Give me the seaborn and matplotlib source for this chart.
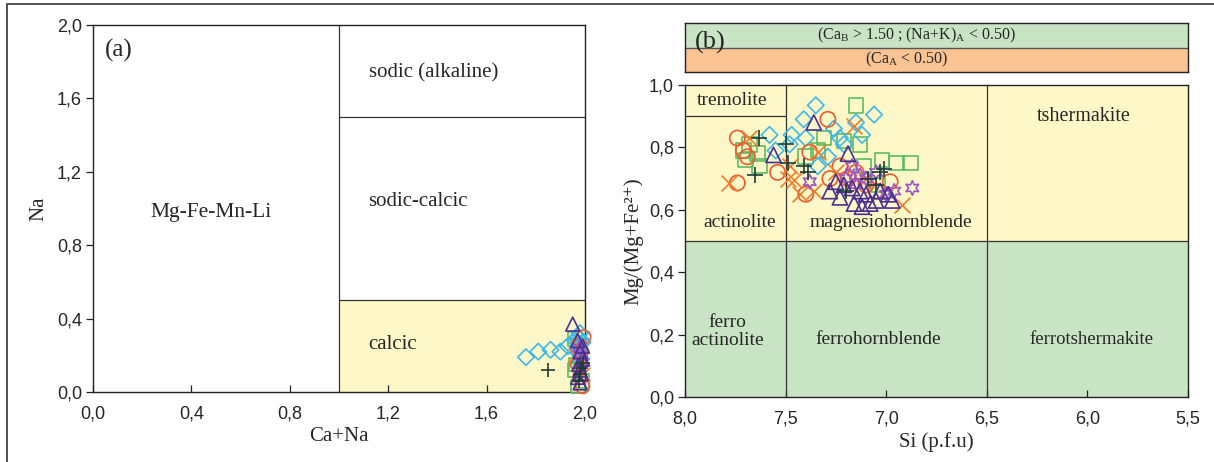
import numpy as np
import pandas as pd
import matplotlib
matplotlib.use("Agg")
import matplotlib.pyplot as plt
from matplotlib.patches import Rectangle
from matplotlib.ticker import FuncFormatter
import seaborn as sns

sns.set_theme(style="white")
plt.rcParams['font.family'] = ['Liberation Sans', 'DejaVu Sans']

# ---------------- data: panel (a) Ca+Na vs Na ----------------
a_diamond_x = [1.76, 1.81, 1.86, 1.90, 1.93, 1.96, 1.97, 1.98, 1.97, 1.98, 1.99, 1.975, 1.985, 1.97, 1.98]
a_diamond_y = [0.19, 0.22, 0.23, 0.22, 0.25, 0.28, 0.30, 0.26, 0.24, 0.32, 0.27, 0.21, 0.18, 0.15, 0.29]
a_tri_x = [1.95, 1.97, 1.98, 1.99, 1.975, 1.98, 1.97, 1.985, 1.99, 1.98]
a_tri_y = [0.37, 0.28, 0.22, 0.18, 0.15, 0.12, 0.08, 0.10, 0.25, 0.05]
a_square_x = [1.96, 1.97, 1.98, 1.96, 1.99, 1.97, 1.98, 1.965]
a_square_y = [0.29, 0.25, 0.19, 0.12, 0.06, 0.03, 0.20, 0.15]
a_circle_x = [1.99, 1.98, 1.995, 1.985, 1.97]
a_circle_y = [0.03, 0.08, 0.30, 0.22, 0.15]
a_cross_x = [1.97, 1.98, 1.96, 1.99]
a_cross_y = [0.25, 0.18, 0.20, 0.10]
a_plus_x = [1.85, 1.98, 1.99, 1.975, 1.985]
a_plus_y = [0.12, 0.10, 0.16, 0.06, 0.13]
a_star_x = [1.98, 1.99, 1.975]
a_star_y = [0.20, 0.16, 0.24]

# ---------------- data: panel (b) Si vs Mg/(Mg+Fe2+) ----------------
b_circle_si = [7.74, 7.69, 7.71, 7.74, 7.54, 7.40, 7.29, 7.38, 7.23, 7.19, 7.15, 7.28, 7.10, 6.98, 7.05]
b_circle_mg = [0.83, 0.77, 0.79, 0.686, 0.72, 0.65, 0.89, 0.785, 0.74, 0.70, 0.72, 0.70, 0.68, 0.69, 0.66]
b_cross_si = [7.68, 7.78, 7.49, 7.43, 7.48, 7.16, 7.34, 7.36, 7.46, 6.92, 7.25, 7.10]
b_cross_mg = [0.83, 0.686, 0.70, 0.65, 0.74, 0.87, 0.785, 0.66, 0.695, 0.615, 0.72, 0.70]
b_square_si = [7.71, 7.64, 7.68, 7.63, 7.70, 7.15, 7.34, 7.31, 7.21, 7.13, 7.11, 7.02, 6.95, 6.88, 7.40, 7.04]
b_square_mg = [0.79, 0.78, 0.81, 0.74, 0.76, 0.935, 0.79, 0.83, 0.82, 0.81, 0.74, 0.76, 0.75, 0.75, 0.77, 0.68]
b_plus_si = [7.63, 7.65, 7.50, 7.49, 7.41, 7.39, 7.01, 7.03, 7.09, 7.05, 7.20]
b_plus_mg = [0.83, 0.71, 0.81, 0.75, 0.74, 0.72, 0.73, 0.72, 0.70, 0.68, 0.66]
b_tri_si = [7.56, 7.36, 7.19, 7.28, 7.21, 7.17, 7.13, 7.10, 7.08, 7.03, 6.99, 7.23, 7.16, 7.05, 7.12, 6.97, 7.25]
b_tri_mg = [0.776, 0.88, 0.78, 0.66, 0.68, 0.67, 0.66, 0.65, 0.62, 0.66, 0.65, 0.64, 0.62, 0.63, 0.61, 0.63, 0.69]
b_diamond_si = [7.35, 7.06, 7.41, 7.47, 7.40, 7.48, 7.26, 7.23, 7.21, 7.29, 7.34, 7.58, 7.15, 7.12, 7.55]
b_diamond_mg = [0.935, 0.905, 0.89, 0.84, 0.83, 0.81, 0.86, 0.83, 0.81, 0.77, 0.74, 0.84, 0.88, 0.84, 0.79]
b_star_si = [6.87, 6.96, 7.38, 7.17, 7.13, 7.00, 7.10, 7.05, 7.20, 7.15]
b_star_mg = [0.67, 0.66, 0.69, 0.74, 0.71, 0.65, 0.70, 0.72, 0.70, 0.68]

a_ticks = [0.0, 0.4, 0.8, 1.2, 1.6, 2.0]
b_xticks = [8.0, 7.5, 7.0, 6.5, 6.0, 5.5]
b_yticks = [0.0, 0.2, 0.4, 0.6, 0.8, 1.0]

# ---------------- styles ----------------
YELLOW = '#FEF8C8'
GREEN = '#C9E4C5'
ORANGE = '#F9C392'
C_CIRCLE = '#EE5A2C'
C_CROSS = '#F47B2B'
C_SQUARE = '#5DBA62'
C_PLUS = '#1E3B3A'
C_TRI = '#4A2F90'
C_DIAM = '#3DB8E8'
C_STAR = '#9B55C4'
SERIF = ['Liberation Serif', 'DejaVu Serif']

W, H = 1214, 462
fig = plt.figure(figsize=(W / 100, H / 100), dpi=100)
fig.patch.set_facecolor('white')

def fx(px):
    return px / W

def fy(py):
    return 1 - py / H

axA = fig.add_axes([fx(93), fy(392), fx(585) - fx(93), fy(25) - fy(392)])
axB = fig.add_axes([fx(685), fy(397), fx(1188) - fx(685), fy(85) - fy(397)])
axT = fig.add_axes([fx(685), fy(72), fx(1188) - fx(685), fy(23) - fy(72)])

comma = FuncFormatter(lambda v, p: f"{v:.1f}".replace('.', ','))

def series(ax, xs, ys, marker, color, size, filled_marker=True, z=3):
    df = pd.DataFrame({'x': xs, 'y': ys})
    if filled_marker:
        sns.scatterplot(data=df, x='x', y='y', ax=ax, marker=marker, s=size,
                        color=color, facecolor='none', edgecolor=color,
                        linewidth=1.2, zorder=z, clip_on=False, legend=False)
    else:
        sns.scatterplot(data=df, x='x', y='y', ax=ax, marker=marker, s=size,
                        color=color, linewidth=1.2, zorder=z, clip_on=False,
                        legend=False)

STAR = (6, 1, 0)

# ---------------- panel (a) ----------------
axA.set_xlim(0, 2)
axA.set_ylim(0, 2)
axA.add_patch(Rectangle((1, 0), 1, 0.5, facecolor=YELLOW, edgecolor='none', zorder=0))
axA.plot([1, 1], [0, 2], color='#333333', lw=0.9, zorder=1)
axA.plot([1, 2], [1.5, 1.5], color='#333333', lw=0.9, zorder=1)
axA.plot([1, 2], [0.5, 0.5], color='#333333', lw=0.9, zorder=1)

series(axA, a_square_x, a_square_y, 's', C_SQUARE, 100)
series(axA, a_diamond_x, a_diamond_y, 'D', C_DIAM, 70)
series(axA, a_circle_x, a_circle_y, 'o', C_CIRCLE, 100)
series(axA, a_cross_x, a_cross_y, 'x', C_CROSS, 100, filled_marker=False)
series(axA, a_star_x, a_star_y, STAR, C_STAR, 100)
series(axA, a_tri_x, a_tri_y, '^', C_TRI, 100)
series(axA, a_plus_x, a_plus_y, '+', C_PLUS, 110, filled_marker=False)

axA.text(0.05, 1.86, '(a)', fontsize=18, family=SERIF, ha='left', va='center')
axA.text(0.48, 0.98, 'Mg-Fe-Mn-Li', fontsize=15.5, family=SERIF, ha='center', va='center')
axA.text(1.12, 1.74, 'sodic (alkaline)', fontsize=15, family=SERIF, ha='left', va='center')
axA.text(1.12, 1.04, 'sodic-calcic', fontsize=15, family=SERIF, ha='left', va='center')
axA.text(1.12, 0.26, 'calcic', fontsize=15, family=SERIF, ha='left', va='center')

axA.set_xticks(a_ticks)
axA.set_yticks(a_ticks)
axA.xaxis.set_major_formatter(comma)
axA.yaxis.set_major_formatter(comma)
axA.set_xlabel('Ca+Na', fontsize=15, family=SERIF, labelpad=3)
axA.set_ylabel('Na', fontsize=15, family=SERIF, labelpad=6)

# ---------------- panel (b) ----------------
axB.set_xlim(8, 5.5)
axB.set_ylim(0, 1)
axB.add_patch(Rectangle((5.5, 0.5), 2.5, 0.5, facecolor=YELLOW, edgecolor='none', zorder=0))
axB.add_patch(Rectangle((5.5, 0.0), 2.5, 0.5, facecolor=GREEN, edgecolor='none', zorder=0))
for xv in (7.5, 6.5):
    axB.plot([xv, xv], [0, 1], color='#333333', lw=0.9, zorder=1)
axB.plot([5.5, 8], [0.5, 0.5], color='#333333', lw=0.9, zorder=1)
axB.plot([8, 7.5], [0.9, 0.9], color='#333333', lw=0.9, zorder=1)

series(axB, b_square_si, b_square_mg, 's', C_SQUARE, 110)
series(axB, b_diamond_si, b_diamond_mg, 'D', C_DIAM, 70)
series(axB, b_circle_si, b_circle_mg, 'o', C_CIRCLE, 120)
series(axB, b_cross_si, b_cross_mg, 'x', C_CROSS, 130, filled_marker=False)
series(axB, b_star_si, b_star_mg, STAR, C_STAR, 110)
series(axB, b_tri_si, b_tri_mg, '^', C_TRI, 120)
series(axB, b_plus_si, b_plus_mg, '+', C_PLUS, 130, filled_marker=False)

axB.text(7.94, 0.95, 'tremolite', fontsize=14, family=SERIF, ha='left', va='center')
axB.text(7.91, 0.56, 'actinolite', fontsize=14, family=SERIF, ha='left', va='center')
axB.text(7.38, 0.56, 'magnesiohornblende', fontsize=14, family=SERIF, ha='left', va='center')
axB.text(6.02, 0.90, 'tshermakite', fontsize=14.5, family=SERIF, ha='center', va='center')
axB.text(7.79, 0.21, 'ferro\nactinolite', fontsize=14, family=SERIF, ha='center', va='center',
         linespacing=1.05)
axB.text(7.04, 0.185, 'ferrohornblende', fontsize=14, family=SERIF, ha='center', va='center')
axB.text(5.98, 0.185, 'ferrotshermakite', fontsize=13.5, family=SERIF, ha='center', va='center')

axB.set_xticks(b_xticks)
axB.set_yticks(b_yticks)
axB.xaxis.set_major_formatter(comma)
axB.yaxis.set_major_formatter(comma)
axB.set_xlabel('Si (p.f.u)', fontsize=15, family=SERIF, labelpad=3)
axB.set_ylabel('Mg/(Mg+Fe²⁺)', fontsize=15, family=SERIF, labelpad=4)

# ---------------- top box of panel (b) ----------------
axT.set_xlim(0, 1)
axT.set_ylim(0, 1)
axT.add_patch(Rectangle((0, 0.5), 1, 0.5, facecolor=GREEN, edgecolor='none', zorder=0))
axT.add_patch(Rectangle((0, 0.0), 1, 0.5, facecolor=ORANGE, edgecolor='none', zorder=0))
axT.plot([0, 1], [0.5, 0.5], color='#555555', lw=1.0)
axT.set_xticks([])
axT.set_yticks([])
axT.text(0.46, 0.75, '(Ca$_\\mathregular{B}$ > 1.50 ; (Na+K)$_\\mathregular{A}$ < 0.50)',
         fontsize=11.5, family=SERIF, ha='center', va='center')
axT.text(0.44, 0.25, '(Ca$_\\mathregular{A}$ < 0.50)', fontsize=11.5, family=SERIF,
         ha='center', va='center')
axT.text(0.02, 0.6, '(b)', fontsize=19, family=SERIF, ha='left', va='center')

# ---------------- axes styling ----------------
for ax in (axA, axB, axT):
    for sp in ax.spines.values():
        sp.set_color('#222222')
        sp.set_linewidth(1.0)
for ax in (axA, axB):
    ax.tick_params(axis='y', direction='out', length=5, width=0.9, color='#222222',
                   labelsize=13, pad=3, left=True)
    ax.tick_params(axis='x', direction='in', length=5, width=0.9, color='#222222',
                   labelsize=13, pad=10, bottom=True)
    for lab in ax.get_xticklabels() + ax.get_yticklabels():
        lab.set_fontfamily(['Liberation Sans', 'DejaVu Sans'])
    ax.set_facecolor('white')

# outer frame of the figure
frame = Rectangle((fx(7), -0.05), 1.05, fy(4) + 0.05, transform=fig.transFigure,
                  fill=False, edgecolor='#333333', lw=1.2, zorder=10)
fig.patches.append(frame)

fig.savefig('out.png', dpi=100, facecolor='white')
